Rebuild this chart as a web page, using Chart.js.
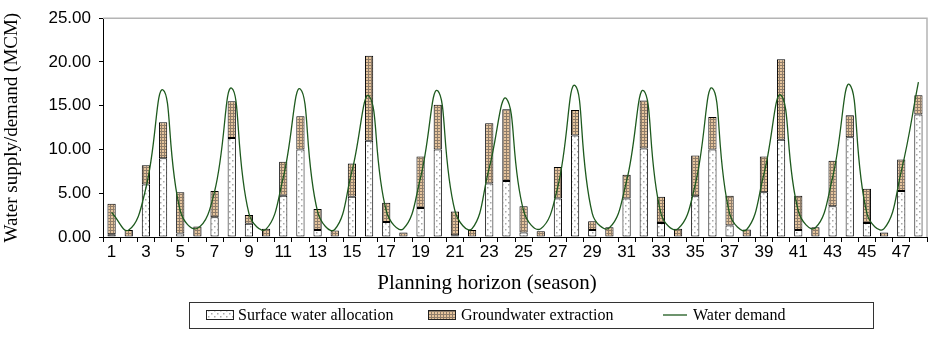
<!DOCTYPE html>
<html>
<head>
<meta charset="utf-8">
<script src="https://cdn.jsdelivr.net/npm/chart.js@4"></script>
<style>
  html, body { margin: 0; padding: 0; background: #fff; }
  #wrap { width: 929px; height: 338px; }
</style>
</head>
<body>
<div id="wrap"><canvas id="supplyChart" width="929" height="338"></canvas></div>
<script>
// seasons along the planning horizon
const seasons = ['1', '2', '3', '4', '5', '6', '7', '8', '9', '10', '11', '12',
    '13', '14', '15', '16', '17', '18', '19', '20', '21', '22', '23', '24',
    '25', '26', '27', '28', '29', '30', '31', '32', '33', '34', '35', '36',
    '37', '38', '39', '40', '41', '42', '43', '44', '45', '46', '47', '48'];

// MCM per season
const surfaceWater = [0.3, 0, 6.0, 9.0, 0.4, 0, 2.25, 11.3, 1.5, 0, 4.7, 10.0,
    0.8, 0, 4.6, 11.0, 1.7, 0, 3.3, 10.0, 0.2, 0, 6.1, 6.4,
    0.5, 0, 4.4, 11.6, 0.8, 0, 4.4, 10.1, 1.6, 0, 4.65, 10.0,
    1.3, 0, 5.1, 11.1, 0.8, 0, 3.5, 11.4, 1.6, 0, 5.25, 14.0];

const groundwater = [3.5, 0.8, 2.2, 4.1, 4.7, 1.2, 3.0, 4.2, 1.0, 0.95, 3.9, 3.8,
    2.4, 0.75, 3.8, 9.7, 2.2, 0.5, 5.9, 5.1, 2.7, 0.8, 6.9, 8.2,
    3.0, 0.65, 3.6, 2.9, 1.0, 1.1, 2.7, 5.5, 3.0, 0.95, 4.65, 3.7,
    3.4, 0.85, 4.1, 9.2, 3.9, 1.1, 5.2, 2.5, 3.9, 0.5, 3.6, 2.2];

const waterDemand = [2.8, 0.8, 5.6, 16.8, 3.0, 1.0, 5.2, 17.0, 2.7, 0.9, 6.8, 16.9,
    2.9, 0.86, 7.5, 16.1, 3.0, 0.95, 6.8, 16.7, 3.0, 0.95, 7.9, 15.8,
    3.0, 0.95, 5.8, 17.3, 2.7, 1.05, 6.4, 16.7, 2.7, 0.95, 6.0, 17.0,
    2.7, 0.86, 7.2, 16.2, 3.0, 1.05, 6.8, 17.4, 2.7, 0.95, 7.5, 17.7];

const yTicks = [0, 5, 10, 15, 20, 25];

const xTitle = 'Planning horizon (season)';

// small tiled fills for the two bar series
function makePattern(size, paint) {
    const c = document.createElement('canvas');
    c.width = size;
    c.height = size;
    paint(c.getContext('2d'));
    return c.getContext('2d').createPattern(c, 'repeat');
}

const dotted = makePattern(6, function (p) {
    p.fillStyle = '#ffffff';
    p.fillRect(0, 0, 6, 6);
    p.fillStyle = '#a8a8a8';
    p.fillRect(1, 1, 1.5, 1.5);
    p.fillRect(4, 4, 1.5, 1.5);
});

const checked = makePattern(3, function (p) {
    p.fillStyle = '#e6c49c';
    p.fillRect(0, 0, 3, 3);
    p.fillStyle = '#8f7d6a';
    p.fillRect(0, 2, 3, 1);
    p.fillRect(2, 0, 1, 3);
});

// grey frame on the top and right of the plot area
const plotFrame = {
    id: 'plotFrame',
    afterDatasetsDraw(chart) {
        const { ctx, chartArea: a } = chart;
        ctx.save();
        ctx.strokeStyle = '#b4b4b4';
        ctx.lineWidth = 1.5;
        ctx.beginPath();
        ctx.moveTo(a.left, a.top);
        ctx.lineTo(a.right, a.top);
        ctx.lineTo(a.right, a.bottom);
        ctx.stroke();
        ctx.restore();
    }
};

// x axis title plus the boxed legend underneath it
const boxLegend = {
    id: 'boxLegend',
    afterDraw(chart) {
        const ctx = chart.ctx;
        const ds = chart.data.datasets;
        const top = 302, h = 26, mid = top + h / 2;
        ctx.save();

        ctx.fillStyle = '#000';
        ctx.font = '21px "Liberation Serif", "Times New Roman", serif';
        ctx.textAlign = 'center';
        ctx.textBaseline = 'middle';
        ctx.fillText(xTitle, 487, 283);

        ctx.textAlign = 'left';
        ctx.strokeStyle = '#333';
        ctx.lineWidth = 1;
        ctx.strokeRect(189.5, top + 0.5, 684, h);
        ctx.font = '16px "Liberation Serif", "Times New Roman", serif';

        const items = [
            { ds: ds[0], x: 206, text: 238 },
            { ds: ds[1], x: 428, text: 461 },
            { ds: ds[2], x: 663, text: 693 }
        ];
        items.forEach(function (it) {
            if (it.ds.type === 'line') {
                ctx.strokeStyle = it.ds.borderColor;
                ctx.lineWidth = 1.3;
                ctx.beginPath();
                ctx.moveTo(it.x, mid);
                ctx.lineTo(it.x + 24, mid);
                ctx.stroke();
            } else {
                ctx.fillStyle = it.ds.backgroundColor;
                ctx.fillRect(it.x, mid - 5, 27, 10);
                ctx.strokeStyle = '#222';
                ctx.lineWidth = 1;
                ctx.strokeRect(it.x + 0.5, mid - 4.5, 27, 9);
            }
            ctx.fillStyle = '#000';
            ctx.fillText(it.ds.label, it.text, mid + 1);
        });
        ctx.restore();
    }
};

const ctx = document.getElementById('supplyChart').getContext('2d');
new Chart(ctx, {
    data: {
        labels: seasons,
        datasets: [{
            type: 'bar',
            label: 'Surface water allocation',
            data: surfaceWater,
            backgroundColor: dotted,
            borderColor: '#000',
            borderWidth: 1,
            borderSkipped: false,
            stack: 'supply',
            order: 1,
            barPercentage: 0.48,
            categoryPercentage: 1
        }, {
            type: 'bar',
            label: 'Groundwater extraction',
            data: groundwater,
            backgroundColor: checked,
            borderColor: '#000',
            borderWidth: 1,
            borderSkipped: false,
            stack: 'supply',
            order: 1,
            barPercentage: 0.48,
            categoryPercentage: 1
        }, {
            type: 'line',
            label: 'Water demand',
            data: waterDemand,
            borderColor: '#1e5a1e',
            borderWidth: 1.3,
            pointRadius: 0,
            tension: 0.45,
            fill: false,
            stack: 'demand',
            order: 0
        }]
    },
    options: {
        responsive: false,
        animation: false,
        layout: { padding: { top: 15, right: 2, bottom: 40, left: 0 } },
        plugins: {
            legend: { display: false },
            tooltip: { enabled: false }
        },
        scales: {
            x: {
                stacked: true,
                offset: true,
                grid: { drawOnChartArea: false, offset: true, tickLength: 5, color: '#000' },
                border: { color: '#000', width: 1 },
                ticks: {
                    autoSkip: false,
                    maxRotation: 0,
                    padding: 0,
                    color: '#000',
                    font: { family: '"Liberation Sans", Arial, sans-serif', size: 17 },
                    callback: function (v, i) { return i % 2 === 0 ? seasons[i] : ''; }
                },
                afterFit: function (scale) { scale.height = 61; }
            },
            y: {
                stacked: true,
                min: 0,
                max: 25,
                afterBuildTicks: function (scale) {
                    scale.ticks = yTicks.map(function (v) { return { value: v }; });
                },
                grid: { drawOnChartArea: false, tickLength: 4, color: '#000' },
                border: { color: '#000', width: 1 },
                ticks: {
                    padding: 8,
                    color: '#000',
                    font: { family: '"Liberation Sans", Arial, sans-serif', size: 17 },
                    callback: function (v) { return Number(v).toFixed(2); }
                },
                title: {
                    display: true,
                    text: 'Water supply/demand (MCM)',
                    color: '#000',
                    font: { family: '"Liberation Serif", "Times New Roman", serif', size: 19 },
                    padding: { top: 1, bottom: 0 }
                },
                afterFit: function (scale) { scale.width = 103; }
            }
        }
    },
    plugins: [plotFrame, boxLegend]
});
</script>
</body>
</html>
